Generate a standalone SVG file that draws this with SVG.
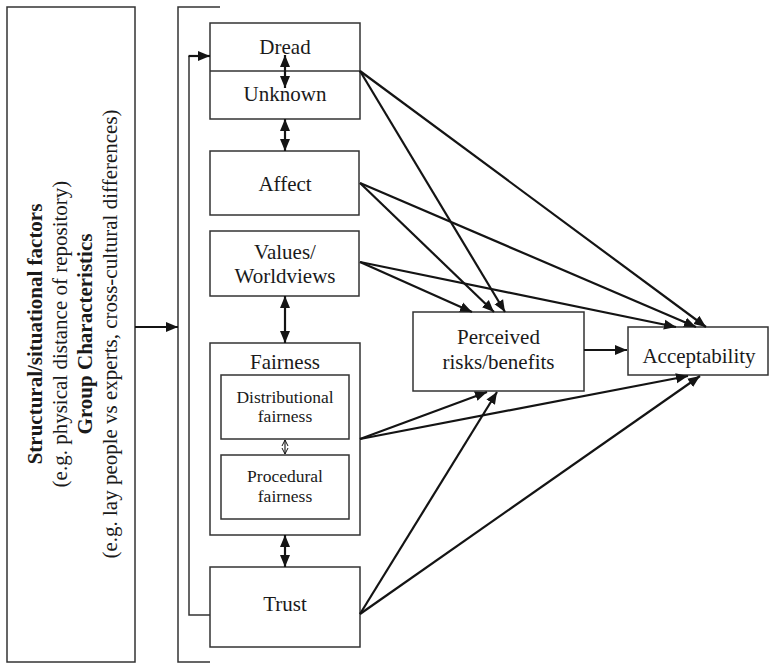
<svg xmlns="http://www.w3.org/2000/svg" width="770" height="663" viewBox="0 0 770 663">
  <style>
    .box { fill: #ffffff; stroke: #333333; stroke-width: 1.5; }
    .frame { fill: none; stroke: #333333; stroke-width: 1.5; }
    .lbl { font-family: "Liberation Serif", "Times New Roman", serif; font-size: 21px; fill: #1a1a1a; text-anchor: middle; }
    .sm { font-size: 17.5px; }
    .bold { font-weight: bold; }
    .conn { fill: none; stroke: #141414; stroke-width: 2.2; }
    .thin { fill: none; stroke: #141414; stroke-width: 1.1; }
  </style>
  <defs>
    <marker id="arrow" markerUnits="userSpaceOnUse" markerWidth="14" markerHeight="12" refX="12" refY="5" orient="auto-start-reverse" viewBox="0 0 14 10">
      <path d="M0,0 L12,5 L0,10 z" fill="#141414"/>
    </marker>
    <marker id="open" markerUnits="userSpaceOnUse" markerWidth="8" markerHeight="8" refX="6" refY="3" orient="auto-start-reverse" viewBox="0 0 8 6">
      <path d="M0,0 L6,3 L0,6" fill="none" stroke="#141414" stroke-width="1"/>
    </marker>
  </defs>

  <!-- context factors panel -->
  <g id="context">
    <rect class="frame" x="7" y="7" width="128" height="655"/>
    <g transform="translate(0,334) rotate(-90)">
      <text class="lbl bold" x="0" y="42">Structural/situational factors</text>
      <text class="lbl" x="0" y="66.5">(e.g. physical distance of repository)</text>
      <text class="lbl bold" x="0" y="91.5">Group Characteristics</text>
      <text class="lbl" x="0" y="116.5">(e.g. lay people vs experts, cross-cultural differences)</text>
    </g>
  </g>

  <!-- bracket grouping the psychological factors -->
  <g id="bracket">
    <polyline class="frame" points="220,7 178,7 178,662 210,662"/>
  </g>

  <g id="dread-unknown">
    <rect class="box" x="210" y="23" width="150" height="96"/>
    <line class="frame" x1="210" y1="71" x2="360" y2="71"/>
    <text class="lbl" x="285" y="54">Dread</text>
    <text class="lbl" x="285" y="101">Unknown</text>
  </g>

  <g id="affect">
    <rect class="box" x="210" y="151" width="149" height="64"/>
    <text class="lbl" x="285" y="191">Affect</text>
  </g>

  <g id="values">
    <rect class="box" x="210" y="231" width="149" height="65"/>
    <text class="lbl" x="285" y="259">Values/</text>
    <text class="lbl" x="285" y="283">Worldviews</text>
  </g>

  <g id="fairness">
    <rect class="box" x="210" y="343" width="150" height="192"/>
    <text class="lbl" x="285" y="369">Fairness</text>
    <g id="distributional">
      <rect class="box" x="221" y="375" width="128" height="64"/>
      <text class="lbl sm" x="285" y="403">Distributional</text>
      <text class="lbl sm" x="285" y="422">fairness</text>
    </g>
    <g id="procedural">
      <rect class="box" x="221" y="455" width="128" height="64"/>
      <text class="lbl sm" x="285" y="482">Procedural</text>
      <text class="lbl sm" x="285" y="502">fairness</text>
    </g>
  </g>

  <g id="trust">
    <rect class="box" x="210" y="567" width="150" height="80"/>
    <text class="lbl" x="285" y="611">Trust</text>
  </g>

  <g id="perceived">
    <rect class="box" x="413" y="312" width="171" height="79"/>
    <text class="lbl" x="498.5" y="344">Perceived</text>
    <text class="lbl" x="498.5" y="369">risks/benefits</text>
  </g>

  <g id="acceptability">
    <rect class="box" x="628" y="327" width="140" height="48"/>
    <text class="lbl" x="699" y="363">Acceptability</text>
  </g>

  <g id="connectors">
    <!-- input and feedback -->
    <line class="conn" x1="135" y1="327" x2="178" y2="327" marker-end="url(#arrow)"/>
    <polyline class="frame" points="210,615 189,615 189,56"/>
    <line class="conn" x1="188.5" y1="56" x2="210" y2="56" marker-end="url(#arrow)"/>

    <!-- vertical two-way links -->
    <line class="conn" x1="285" y1="55" x2="285" y2="88" marker-start="url(#arrow)" marker-end="url(#arrow)"/>
    <line class="conn" x1="285" y1="119" x2="285" y2="151" marker-start="url(#arrow)" marker-end="url(#arrow)"/>
    <line class="conn" x1="285" y1="296" x2="285" y2="343" marker-start="url(#arrow)" marker-end="url(#arrow)"/>
    <line class="conn" x1="285" y1="535" x2="285" y2="567" marker-start="url(#arrow)" marker-end="url(#arrow)"/>
    <line class="thin" x1="285" y1="440" x2="285" y2="454" marker-start="url(#open)" marker-end="url(#open)"/>

    <!-- towards perceived risks/benefits -->
    <line class="conn" x1="360" y1="71" x2="505" y2="312" marker-end="url(#arrow)"/>
    <line class="conn" x1="360" y1="183" x2="494" y2="312" marker-end="url(#arrow)"/>
    <line class="conn" x1="360" y1="262" x2="472" y2="312" marker-end="url(#arrow)"/>
    <line class="conn" x1="360" y1="439" x2="487" y2="392" marker-end="url(#arrow)"/>
    <line class="conn" x1="360" y1="614" x2="497" y2="392" marker-end="url(#arrow)"/>

    <!-- towards acceptability -->
    <line class="conn" x1="360" y1="71" x2="706" y2="327" marker-end="url(#arrow)"/>
    <line class="conn" x1="360" y1="183" x2="696" y2="327" marker-end="url(#arrow)"/>
    <line class="conn" x1="360" y1="262" x2="676" y2="327" marker-end="url(#arrow)"/>
    <line class="conn" x1="360" y1="439" x2="688" y2="376" marker-end="url(#arrow)"/>
    <line class="conn" x1="360" y1="614" x2="700" y2="376" marker-end="url(#arrow)"/>
    <line class="conn" x1="584" y1="350" x2="627" y2="350" marker-end="url(#arrow)"/>
  </g>
</svg>
